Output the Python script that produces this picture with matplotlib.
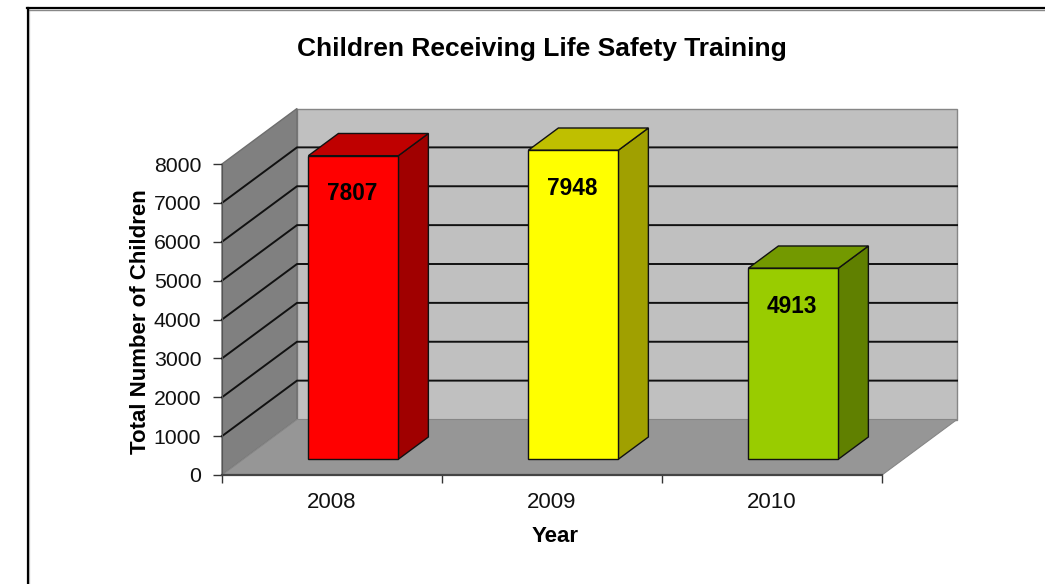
import matplotlib
matplotlib.use('Agg')
import matplotlib.pyplot as plt
from matplotlib.patches import Polygon

plt.rcParams['font.family'] = ['Liberation Sans', 'DejaVu Sans']

years = ['2008', '2009', '2010']
children = [7807, 7948, 4913]
bar_colors = ['#ff0000', '#ffff00', '#99cc00']
top_colors = ['#bf0000', '#bfbf00', '#739900']
side_colors = ['#a00000', '#a0a000', '#608000']
y_ticks = [0, 1000, 2000, 3000, 4000, 5000, 6000, 7000, 8000]

W, H = 1045, 584
# depth of the fake 3d box in data units (75px across, 55px up)
DX = 75 / 220
DY = 8000 * 55.5 / 311
BAR_W = 90 / 220
BAR_NEAR = 0.285
BAR_FAR = 0.685


def shift(x, y, d):
    return (x + DX * d, y + DY * d)


def poly(ax, pts, color, edge='none', lw=0.0, z=1):
    ax.add_patch(Polygon(pts, closed=True, facecolor=color, edgecolor=edge, linewidth=lw, clip_on=False, zorder=z))


fig = plt.figure(figsize=(W / 100, H / 100), dpi=100, facecolor='white')
ax = fig.add_axes([222 / W, (H - 475) / H, 660 / W, 311 / H], facecolor='none')
ax.set_xlim(0, 3)
ax.set_ylim(0, 8000)

# walls and floor
poly(ax, [shift(0, 0, 1), shift(3, 0, 1), shift(3, 8000, 1), shift(0, 8000, 1)], '#c0c0c0', '#868686', 1.0)
poly(ax, [(0, 0), shift(0, 0, 1), shift(0, 8000, 1), (0, 8000)], '#808080', '#6e6e6e', 1.0)
poly(ax, [(0, 0), (3, 0), shift(3, 0, 1), shift(0, 0, 1)], '#969696', '#868686', 0.8)

# gridlines run along side wall then back wall
for v in y_ticks[1:-1]:
    ax.plot([0, shift(0, v, 1)[0], shift(3, v, 1)[0]], [v, v + DY, v + DY], color='#111111', lw=1.4, clip_on=False, zorder=2)

# bars
for i, val in enumerate(children):
    x0 = i + 0.5 - BAR_W / 2
    x1 = i + 0.5 + BAR_W / 2
    fl, fb = shift(x0, 0, BAR_NEAR), shift(x1, 0, BAR_NEAR)
    tl, tr = shift(x0, val, BAR_NEAR), shift(x1, val, BAR_NEAR)
    bl2, br2 = shift(x0, val, BAR_FAR), shift(x1, val, BAR_FAR)
    low2 = shift(x1, 0, BAR_FAR)
    poly(ax, [fb, low2, br2, tr], side_colors[i], '#111111', 1.0, 3)
    poly(ax, [tl, tr, br2, bl2], top_colors[i], '#111111', 1.0, 3)
    poly(ax, [fl, fb, tr, tl], bar_colors[i], '#111111', 1.0, 4)
    cx = (fl[0] + fb[0]) / 2
    ax.annotate(str(val), (cx, tl[1]), xytext=(-1, -38), textcoords='offset pixels', ha='center', va='center',
                fontsize=16.3, fontweight='bold', color='black', zorder=5, annotation_clip=False)

# axes
for s in ['top', 'right']:
    ax.spines[s].set_visible(False)
ax.spines['left'].set_color('#555555')
ax.spines['bottom'].set_color('#444444')
ax.spines['bottom'].set_linewidth(1.6)
ax.spines['left'].set_zorder(2)
ax.set_yticks(y_ticks)
ax.tick_params(axis='y', labelsize=15.3, length=6.5, width=1, color='#333333', pad=8.5, labelcolor='#111111')
ax.set_xticks([0, 1, 2, 3])
ax.set_xticklabels([])
ax.set_xticks([0.5, 1.5, 2.5], labels=years, minor=True)
ax.tick_params(axis='x', which='major', length=6, width=1, color='#333333')
ax.tick_params(axis='x', which='minor', length=0, labelsize=16, pad=12.5, labelcolor='#111111')
ax.set_xlabel('Year', fontsize=16, fontweight='bold', va='center')
ax.xaxis.set_label_coords((555.5 - 222) / 660, -(537 - 475) / 311)
ax.set_ylabel('Total Number of Children', fontsize=16, fontweight='bold', va='center')
ax.yaxis.set_label_coords((140 - 222) / 660, (475 - 322) / 311)

fig.text(541.5 / W, 1 - 49 / H, 'Children Receiving Life Safety Training', ha='center', va='center',
         fontsize=19, fontweight='bold', color='black')

# picture frame, with its faint grey shadow
fig.add_artist(plt.Line2D([29 / W, 29 / W], [0, 1 - 9 / H], color='#cccccc', lw=1.0))
fig.add_artist(plt.Line2D([29 / W, 1], [1 - 9.5 / H, 1 - 9.5 / H], color='#888888', lw=1.0))
fig.add_artist(plt.Line2D([27.5 / W, 27.5 / W], [0, 1 - 8 / H], color='black', lw=1.6))
fig.add_artist(plt.Line2D([27 / W, 1], [1 - 8 / H, 1 - 8 / H], color='black', lw=1.6))

fig.savefig('out.png', dpi=100)
